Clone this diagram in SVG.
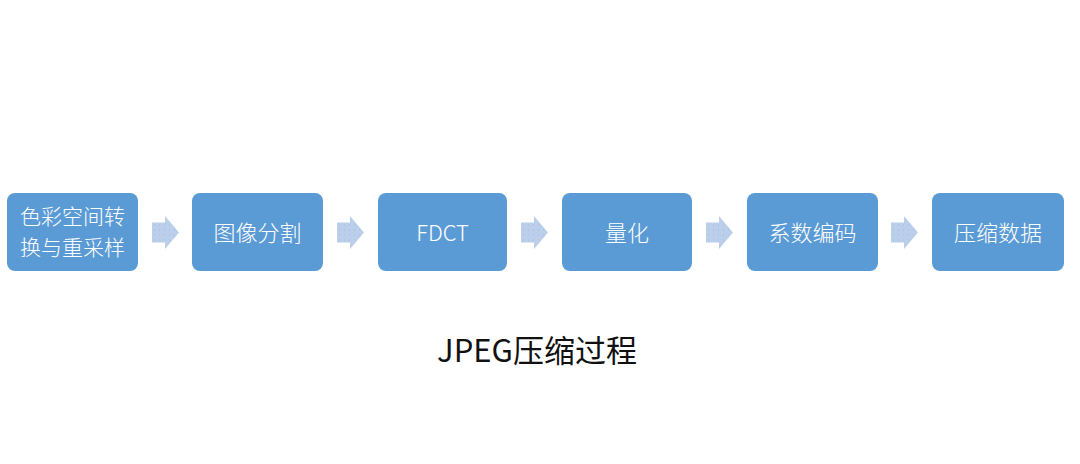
<svg xmlns="http://www.w3.org/2000/svg" width="1080" height="464" viewBox="0 0 1080 464">
  <style>
    .box { fill: #5b9bd5; }
    .lbl { fill: #ffffff; font-family: "Noto Sans CJK SC", "Noto Sans", sans-serif; font-size: 22px; font-weight: 300; text-anchor: middle; dominant-baseline: central; }
    .lbl2 { font-size: 21px; }
    .arrow { fill: url(#dots); }
    .title { fill: #111111; font-family: "Noto Sans CJK SC", "Noto Sans", sans-serif; font-size: 31px; text-anchor: middle; dominant-baseline: central; }
  </style>
  <defs>
    <pattern id="dots" width="5" height="5" patternUnits="userSpaceOnUse">
      <rect width="5" height="5" fill="#bccfea"/>
      <rect x="2" y="2" width="1" height="1" fill="#a3bbe0"/>
    </pattern>
    <polygon id="arr" points="0,-10 13,-10 13,-16.5 27,0 13,16.5 13,10 0,10"/>
  </defs>
  <rect width="1080" height="464" fill="#ffffff"/>

  <g id="connectors">
    <use href="#arr" class="arrow" x="152" y="232.5"/>
    <use href="#arr" class="arrow" x="337" y="232.5"/>
    <use href="#arr" class="arrow" x="521" y="232.5"/>
    <use href="#arr" class="arrow" x="706" y="232.5"/>
    <use href="#arr" class="arrow" x="891" y="232.5"/>
  </g>

  <g id="node-color-convert">
    <rect class="box" x="7" y="193" width="131" height="78" rx="8"/>
    <text class="lbl lbl2" x="72.5" y="215">色彩空间转</text>
    <text class="lbl lbl2" x="72.5" y="246">换与重采样</text>
  </g>
  <g id="node-split">
    <rect class="box" x="192" y="193" width="131" height="78" rx="8"/>
    <text class="lbl" x="257.5" y="231">图像分割</text>
  </g>
  <g id="node-fdct">
    <rect class="box" x="378" y="193" width="129" height="78" rx="8"/>
    <text class="lbl" x="442.5" y="231">FDCT</text>
  </g>
  <g id="node-quant">
    <rect class="box" x="562" y="193" width="130" height="78" rx="8"/>
    <text class="lbl" x="627" y="231">量化</text>
  </g>
  <g id="node-coding">
    <rect class="box" x="747" y="193" width="131" height="78" rx="8"/>
    <text class="lbl" x="812.5" y="231">系数编码</text>
  </g>
  <g id="node-output">
    <rect class="box" x="932" y="193" width="132" height="78" rx="8"/>
    <text class="lbl" x="998" y="231">压缩数据</text>
  </g>

  <text class="title" x="537" y="348">JPEG压缩过程</text>
</svg>
